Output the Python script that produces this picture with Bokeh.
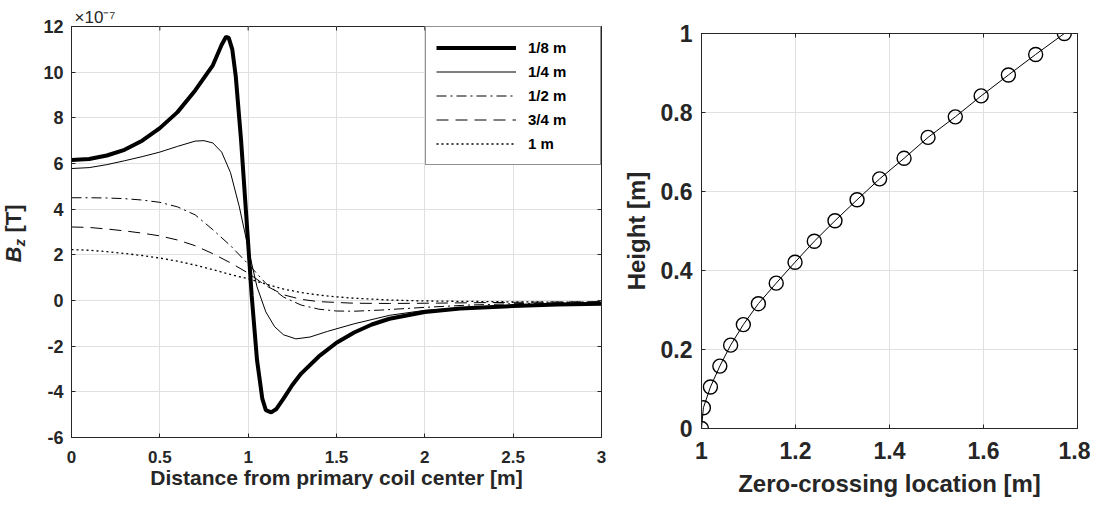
from bokeh.plotting import figure
from bokeh.layouts import row, column
from bokeh.models import FixedTicker, LinearAxis, Range1d, Legend, LegendItem, Spacer
from bokeh.core.properties import value
from bokeh.embed import file_html
from bokeh.resources import INLINE
import math

# ---------------- Left panel data (B_z in units of 1e-7 T) ----------------
x_18 = [0, 0.1, 0.2, 0.3, 0.4, 0.5, 0.6, 0.7, 0.75, 0.8, 0.85, 0.875, 0.89, 0.91, 0.93, 0.96,
        1.0, 1.02, 1.05, 1.08, 1.1, 1.13, 1.16, 1.2, 1.25, 1.3, 1.4, 1.5, 1.6, 1.7, 1.8,
        2.0, 2.2, 2.5, 2.75, 3.0]
bz_18 = [6.15, 6.2, 6.35, 6.6, 7.0, 7.55, 8.25, 9.2, 9.75, 10.3, 11.2, 11.55, 11.5, 11.0, 9.8, 7.0,
         2.5, 0.2, -2.6, -4.3, -4.8, -4.9, -4.75, -4.3, -3.7, -3.2, -2.45, -1.85, -1.4, -1.05, -0.8,
         -0.5, -0.35, -0.24, -0.18, -0.14]

x_14 = [0, 0.1, 0.2, 0.3, 0.4, 0.5, 0.6, 0.7, 0.75, 0.8, 0.85, 0.9, 0.95, 1.0, 1.05, 1.1,
        1.15, 1.2, 1.27, 1.35, 1.45, 1.6, 1.8, 2.0, 2.25, 2.5, 2.75, 3.0]
bz_14 = [5.78, 5.82, 5.95, 6.12, 6.3, 6.5, 6.75, 6.98, 7.0, 6.9, 6.5, 5.6, 4.1, 2.3, 0.6, -0.5,
         -1.15, -1.5, -1.68, -1.6, -1.35, -1.02, -0.65, -0.43, -0.3, -0.22, -0.17, -0.13]

x_12 = [0, 0.1, 0.2, 0.3, 0.4, 0.5, 0.6, 0.7, 0.8, 0.9, 1.0, 1.1, 1.2, 1.3, 1.4, 1.5, 1.6,
        1.75, 2.0, 2.25, 2.5, 2.75, 3.0]
bz_12 = [4.5, 4.5, 4.49, 4.46, 4.4, 4.3, 4.1, 3.75, 3.1, 2.4, 1.6, 0.75, 0.15, -0.2, -0.38,
         -0.46, -0.47, -0.42, -0.3, -0.2, -0.14, -0.1, -0.07]

x_34 = [0, 0.1, 0.2, 0.3, 0.4, 0.5, 0.6, 0.7, 0.8, 0.9, 1.0, 1.1, 1.2, 1.3, 1.4, 1.6, 1.8,
        2.0, 2.5, 3.0]
bz_34 = [3.22, 3.2, 3.13, 3.05, 2.95, 2.83, 2.65, 2.4, 2.05, 1.65, 1.2, 0.65, 0.25, 0.05, -0.05,
         -0.12, -0.13, -0.12, -0.08, -0.05]

x_1 = [0, 0.1, 0.2, 0.3, 0.4, 0.5, 0.6, 0.7, 0.8, 0.9, 1.0, 1.1, 1.2, 1.3, 1.4, 1.5, 1.6,
       1.8, 2.0, 2.5, 3.0]
bz_1 = [2.23, 2.2, 2.14, 2.06, 1.97, 1.86, 1.72, 1.55, 1.35, 1.14, 0.95, 0.72, 0.5, 0.35, 0.24,
        0.16, 0.1, 0.02, -0.02, -0.06, -0.08]

legend_labels = ["1/8 m", "1/4 m", "1/2 m", "3/4 m", "1 m"]

left_xticks = [0.0, 0.5, 1.0, 1.5, 2.0, 2.5, 3.0]
left_xlabels = ["0", "0.5", "1", "1.5", "2", "2.5", "3"]
left_yticks = [-6.0, -4.0, -2.0, 0.0, 2.0, 4.0, 6.0, 8.0, 10.0, 12.0]
left_ylabels = ["-6", "-4", "-2", "0", "2", "4", "6", "8", "10", "12"]
left_multiplier = "\u00d710\u207b\u2077"

# ---------------- Right panel data ----------------
zero_crossing = [1.000, 1.004, 1.019, 1.039, 1.062, 1.089, 1.121, 1.159, 1.199, 1.240,
                 1.284, 1.331, 1.379, 1.431, 1.482, 1.540, 1.595, 1.653, 1.711, 1.772]
height = [0.0, 0.0526, 0.105, 0.158, 0.211, 0.263, 0.316, 0.368, 0.421, 0.474,
          0.526, 0.579, 0.632, 0.684, 0.737, 0.789, 0.842, 0.895, 0.947, 1.0]

right_xticks = [1.0, 1.2, 1.4, 1.6, 1.8]
right_xlabels = ["1", "1.2", "1.4", "1.6", "1.8"]
right_yticks = [0.0, 0.2, 0.4, 0.6, 0.8, 1.0]
right_ylabels = ["0", "0.2", "0.4", "0.6", "0.8", "1"]

FONT = "Liberation Sans"
DARK = "#262626"
GRID = "#e0e0e0"

# ---------------- layout geometry (pixels) ----------------
LAB_W = 40            # strip holding the rotated B_z label
P1_FW, P1_FH = 530, 411
P1_L, P1_R, P1_T, P1_B = 31, 18, 26, 60
P2_FW, P2_FH = 376, 395
P2_L, P2_R, P2_T, P2_B = 80, 13, 26, 70
P2_SHIFT = 7


def style_axis(ax, ticks, labels, size, show_labels=True):
    ax.ticker = FixedTicker(ticks=ticks)
    if show_labels:
        ax.major_label_overrides = {t: l for t, l in zip(ticks, labels)}
    else:
        ax.major_label_overrides = {t: "" for t in ticks}
        ax.major_label_standoff = 0
    ax.major_label_text_font = FONT
    ax.major_label_text_font_style = "bold"
    ax.major_label_text_font_size = size
    ax.major_label_text_color = DARK
    ax.axis_line_color = DARK
    ax.major_tick_line_color = DARK
    ax.major_tick_in = 4
    ax.major_tick_out = 0
    ax.minor_tick_line_color = None
    ax.axis_label_text_font = FONT
    ax.axis_label_text_font_style = "bold"
    ax.axis_label_text_color = DARK


# ================= Left figure =================
p1 = figure(frame_width=P1_FW, frame_height=P1_FH, x_range=Range1d(0, 3), y_range=Range1d(-6, 12),
            output_backend="svg", toolbar_location=None,
            min_border_left=P1_L, min_border_right=P1_R, min_border_top=P1_T, min_border_bottom=P1_B)
p1.outline_line_color = DARK
p1.title.text = left_multiplier
p1.title.align = "left"
p1.title.offset = 3
p1.title.standoff = 0
p1.title.text_font = FONT
p1.title.text_font_style = "normal"
p1.title.text_font_size = "17px"
p1.title.text_color = DARK

style_axis(p1.xaxis[0], left_xticks, left_xlabels, "17px")
style_axis(p1.yaxis[0], left_yticks, left_ylabels, "18px")
p1.xaxis[0].major_label_standoff = 13
p1.yaxis[0].major_label_standoff = 8
p1.xaxis[0].axis_label = "Distance from primary coil center [m]"
p1.xaxis[0].axis_label_text_font_size = "21px"
p1.xaxis[0].axis_label_standoff = 0
right1 = LinearAxis()
style_axis(right1, left_yticks, None, "10px", show_labels=False)
p1.add_layout(right1, "right")
p1.xgrid.ticker = FixedTicker(ticks=left_xticks)
p1.ygrid.ticker = FixedTicker(ticks=left_yticks)
p1.xgrid.grid_line_color = GRID
p1.ygrid.grid_line_color = GRID

# inward tick marks along the top edge (box style)
tick_len = 4 * 18.0 / P1_FH
n_top = len(left_xticks) - 2
p1.segment(x0=left_xticks[1:-1], y0=[12] * n_top, x1=left_xticks[1:-1],
           y1=[12 - tick_len] * n_top, line_color=DARK, line_width=1)

r18 = p1.line(x_18, bz_18, line_color="black", line_width=4)
r14 = p1.line(x_14, bz_14, line_color="black", line_width=1)
r12 = p1.line(x_12, bz_12, line_color="black", line_width=1, line_dash="10 4 2 4")
r34 = p1.line(x_34, bz_34, line_color="black", line_width=1, line_dash="12 7")
r1 = p1.line(x_1, bz_1, line_color="black", line_width=1.3, line_dash="2 3")

legend = Legend(items=[LegendItem(label=l, renderers=[r]) for l, r in
                       zip(legend_labels, [r18, r14, r12, r34, r1])],
                location="top_right", margin=0, padding=10, spacing=3,
                glyph_width=80, glyph_height=21, label_height=21, label_width=62,
                label_standoff=12, border_line_color=DARK, border_line_width=1,
                background_fill_color="white", background_fill_alpha=1.0,
                label_text_font=FONT, label_text_font_style="bold",
                label_text_font_size="15px", label_text_color="black")
p1.add_layout(legend)

# strip left of the left figure holding the rotated "B_z [T]" label;
# same vertical geometry and y range as the left plot, so positions are in B_z units
lab_fig = figure(frame_width=LAB_W, frame_height=P1_FH, x_range=Range1d(0, LAB_W),
                 y_range=p1.y_range, output_backend="svg", toolbar_location=None,
                 x_axis_type=None, y_axis_type=None,
                 min_border_left=0, min_border_right=0, min_border_top=P1_T, min_border_bottom=P1_B)
lab_fig.outline_line_color = None
lab_fig.xgrid.visible = False
lab_fig.ygrid.visible = False
lab_fig.text(x=[13], y=[1.66], text=["B"], angle=math.pi / 2, text_font=value(FONT),
             text_font_style="bold italic", text_font_size="22px", text_color=DARK,
             text_align="left", text_baseline="middle")
lab_fig.text(x=[19], y=[2.37], text=["z"], angle=math.pi / 2, text_font=value(FONT),
             text_font_style="bold italic", text_font_size="15px", text_color=DARK,
             text_align="left", text_baseline="middle")
lab_fig.text(x=[13], y=[2.98], text=["[T]"], angle=math.pi / 2, text_font=value(FONT),
             text_font_style="bold", text_font_size="22px", text_color=DARK,
             text_align="left", text_baseline="middle")

# ================= Right figure =================
p2 = figure(frame_width=P2_FW, frame_height=P2_FH, x_range=Range1d(1, 1.8), y_range=Range1d(0, 1),
            output_backend="svg", toolbar_location=None,
            min_border_left=P2_L, min_border_right=P2_R, min_border_top=P2_T, min_border_bottom=P2_B)
p2.outline_line_color = DARK
style_axis(p2.xaxis[0], right_xticks, right_xlabels, "23px")
style_axis(p2.yaxis[0], right_yticks, right_ylabels, "23px")
p2.xaxis[0].major_label_standoff = 13
p2.yaxis[0].major_label_standoff = 9
p2.xaxis[0].axis_label = "Zero-crossing location [m]"
p2.yaxis[0].axis_label = "Height [m]"
p2.xaxis[0].axis_label_text_font_size = "24px"
p2.yaxis[0].axis_label_text_font_size = "24px"
p2.xaxis[0].axis_label_standoff = 8
p2.yaxis[0].axis_label_standoff = 8
top2 = LinearAxis()
style_axis(top2, right_xticks, None, "10px", show_labels=False)
p2.add_layout(top2, "above")
right2 = LinearAxis()
style_axis(right2, right_yticks, None, "10px", show_labels=False)
p2.add_layout(right2, "right")
p2.xgrid.ticker = FixedTicker(ticks=right_xticks)
p2.ygrid.ticker = FixedTicker(ticks=right_yticks)
p2.xgrid.grid_line_color = GRID
p2.ygrid.grid_line_color = GRID

p2.line(zero_crossing, height, line_color="black", line_width=1)
p2.scatter(zero_crossing, height, marker="circle", size=14, line_color="black",
           line_width=1.4, fill_color=None)

right_col = column(Spacer(width=P2_L + P2_FW + P2_R, height=P2_SHIFT), p2, spacing=0)
layout = row(lab_fig, p1, right_col, spacing=0)
open("out.html", "w").write(file_html(layout, INLINE))
